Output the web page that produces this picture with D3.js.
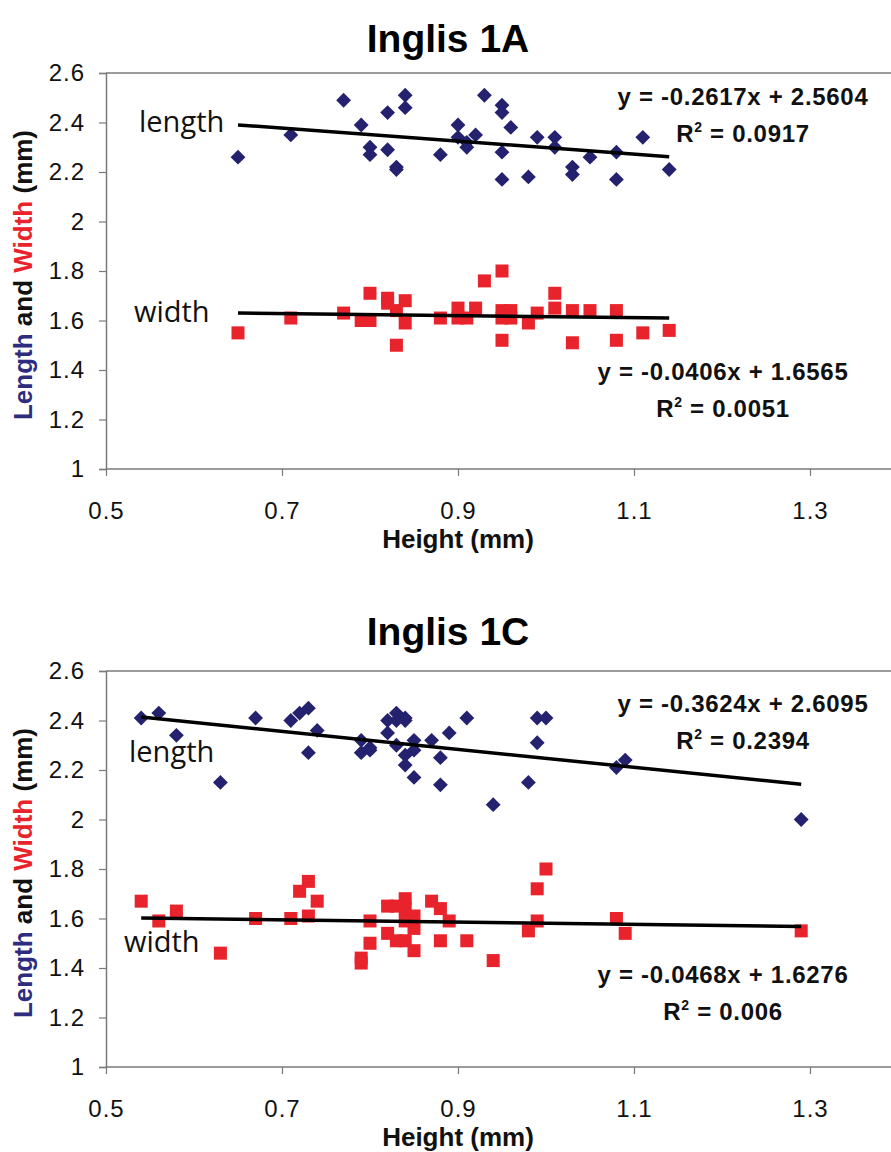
<!DOCTYPE html>
<html><head><meta charset="utf-8">
<script src="https://cdn.jsdelivr.net/npm/d3@7"></script>
<style>body{margin:0;background:#fff}svg{display:block}</style>
</head><body>
<svg id="c" width="891" height="1152"></svg>
<script>
// ---------- DATA ----------
const titles = ["Inglis 1A", "Inglis 1C"];
const xTicks = [0.5, 0.7, 0.9, 1.1, 1.3];
const yTicks = [1, 1.2, 1.4, 1.6, 1.8, 2, 2.2, 2.4, 2.6];

// Inglis 1A
const A_length = [[0.65,2.26],[0.71,2.35],[0.77,2.49],[0.79,2.39],[0.80,2.30],[0.80,2.27],[0.82,2.44],[0.82,2.29],[0.83,2.22],[0.83,2.21],[0.84,2.51],[0.84,2.46],[0.88,2.27],[0.90,2.39],[0.90,2.34],[0.91,2.32],[0.91,2.30],[0.92,2.35],[0.93,2.51],[0.95,2.47],[0.95,2.44],[0.96,2.38],[0.95,2.28],[0.95,2.17],[0.98,2.18],[0.99,2.34],[1.01,2.34],[1.01,2.30],[1.03,2.22],[1.03,2.19],[1.05,2.26],[1.08,2.28],[1.08,2.17],[1.11,2.34],[1.14,2.21]];
const A_width = [[0.65,1.55],[0.71,1.61],[0.77,1.63],[0.80,1.71],[0.79,1.60],[0.80,1.60],[0.82,1.69],[0.82,1.67],[0.83,1.64],[0.84,1.68],[0.84,1.59],[0.83,1.50],[0.88,1.61],[0.90,1.65],[0.90,1.61],[0.91,1.61],[0.92,1.65],[0.93,1.76],[0.95,1.80],[0.95,1.64],[0.95,1.61],[0.96,1.64],[0.96,1.61],[0.95,1.52],[0.98,1.59],[0.99,1.63],[1.01,1.71],[1.01,1.65],[1.03,1.64],[1.03,1.51],[1.05,1.64],[1.08,1.64],[1.08,1.52],[1.11,1.55],[1.14,1.56]];
const A_lengthFit = [-0.2617, 2.5604, 0.0917];
const A_widthFit = [-0.0406, 1.6565, 0.0051];

// Inglis 1C
const C_length = [[0.54,2.41],[0.56,2.43],[0.58,2.34],[0.63,2.15],[0.67,2.41],[0.71,2.40],[0.72,2.43],[0.73,2.45],[0.74,2.36],[0.73,2.27],[0.79,2.32],[0.79,2.27],[0.80,2.29],[0.80,2.28],[0.82,2.40],[0.83,2.43],[0.83,2.40],[0.84,2.41],[0.84,2.40],[0.82,2.35],[0.83,2.30],[0.84,2.26],[0.84,2.22],[0.85,2.32],[0.85,2.28],[0.85,2.17],[0.87,2.32],[0.88,2.25],[0.88,2.14],[0.89,2.35],[0.91,2.41],[0.94,2.06],[0.98,2.15],[0.99,2.41],[1.00,2.41],[0.99,2.31],[1.08,2.21],[1.09,2.24],[1.29,2.00]];
const C_width = [[0.54,1.67],[0.56,1.59],[0.58,1.63],[0.63,1.46],[0.67,1.60],[0.71,1.60],[0.72,1.71],[0.73,1.75],[0.74,1.67],[0.73,1.61],[0.80,1.59],[0.80,1.50],[0.79,1.44],[0.79,1.42],[0.82,1.65],[0.83,1.65],[0.84,1.68],[0.84,1.64],[0.85,1.61],[0.85,1.56],[0.82,1.54],[0.83,1.51],[0.84,1.51],[0.85,1.47],[0.84,1.59],[0.87,1.67],[0.88,1.64],[0.89,1.59],[0.88,1.51],[0.91,1.51],[0.94,1.43],[0.98,1.55],[0.99,1.59],[0.99,1.72],[1.00,1.80],[1.08,1.60],[1.09,1.54],[1.29,1.55]];
const C_lengthFit = [-0.3624, 2.6095, 0.2394];
const C_widthFit = [-0.0468, 1.6276, 0.006];

// ---------- DRAW ----------
const svg = d3.select("#c");
const NAVY = "#24226e", RED = "#e8232b", AXIS = "#7a7a7a";
const FONT = "'Liberation Sans', Arial, sans-serif";

function fmt(v){ return String(v); }

function panel(cfg){
  const g = svg.append("g");
  const x = d3.scaleLinear().domain([0.5, 1.4]).range([106, 898]);
  const y = d3.scaleLinear().domain([1, 2.6]).range([cfg.bottom, cfg.bottom - 396]);

  g.append("text").attr("x", 448).attr("y", cfg.titleY).attr("text-anchor","middle")
   .attr("font-family", FONT).attr("font-weight","bold").attr("font-size", 39).text(cfg.title);

  // frame
  g.append("line").attr("x1", x(0.5)).attr("x2", 891).attr("y1", y(2.6)).attr("y2", y(2.6))
   .attr("stroke", AXIS).attr("stroke-width", 1.5);

  const ya = g.append("g").attr("transform", `translate(${x(0.5)},0)`)
    .call(d3.axisLeft(y).tickValues(yTicks).tickSize(7).tickPadding(14).tickFormat(fmt));
  const xa = g.append("g").attr("transform", `translate(0,${y(1)})`)
    .call(d3.axisBottom(x).tickValues(xTicks).tickSize(7).tickPadding(26).tickFormat(fmt));
  [ya, xa].forEach(a => {
    a.select(".domain").attr("stroke", AXIS).attr("stroke-width", 1.5);
    a.selectAll(".tick line").attr("stroke", AXIS).attr("stroke-width", 1.2);
    a.selectAll(".tick text").attr("font-family", FONT).attr("font-size", 24)
      .attr("fill", "#111").style("letter-spacing", "1px");
  });
  xa.select(".domain").attr("d", `M${x(0.5)},0H891`);

  // axis titles
  g.append("text").attr("x", 458).attr("y", cfg.bottom + 79).attr("text-anchor","middle")
   .attr("font-family", FONT).attr("font-weight","bold").attr("font-size", 26).attr("fill","#111")
   .text("Height (mm)");
  const yl = g.append("text").attr("transform", `translate(32,${cfg.bottom - 194}) rotate(-90)`)
   .attr("text-anchor","middle").attr("font-family", FONT).attr("font-weight","bold").attr("font-size", 26).attr("fill","#111");
  yl.append("tspan").attr("fill", "#2e2c7e").text("Length");
  yl.append("tspan").text(" and ");
  yl.append("tspan").attr("fill", RED).text("Width");
  yl.append("tspan").text(" (mm)");

  // points
  g.append("g").selectAll("rect").data(cfg.width).join("rect")
   .attr("x", d => x(d[0]) - 6.5).attr("y", d => y(d[1]) - 6.5).attr("width", 13).attr("height", 13)
   .attr("fill", RED);
  g.append("g").selectAll("path").data(cfg.length).join("path")
   .attr("transform", d => `translate(${x(d[0])},${y(d[1])}) rotate(45)`)
   .attr("d", d3.symbol().type(d3.symbolSquare).size(110)())
   .attr("fill", NAVY);

  // trend lines
  [[cfg.length, cfg.lFit],[cfg.width, cfg.wFit]].forEach(([pts, f]) => {
    const xs = d3.extent(pts, d => d[0]);
    const line = d3.line().x(d => x(d)).y(d => y(f[0]*d + f[1]));
    g.append("path").attr("d", line(xs)).attr("stroke","#000").attr("stroke-width",3.5).attr("fill","none");
  });

  // labels
  const lab = (t, px, py) => g.append("text").attr("x", px).attr("y", py)
     .attr("font-family","'Open Sans', 'Noto Sans', sans-serif").attr("font-size", 29).attr("fill","#111").text(t);
  lab("length", cfg.lenLab[0], cfg.lenLab[1]);
  lab("width", cfg.widLab[0], cfg.widLab[1]);

  // equations
  const eq = (f, cx, by) => {
    const s = f[1] >= 0 ? "+" : "-";
    g.append("text").attr("x", cx).attr("y", by).attr("text-anchor","middle")
      .attr("font-family", FONT).attr("font-weight","bold").attr("font-size", 24).attr("fill","#111")
      .style("letter-spacing","0.7px")
      .text(`y = ${f[0]}x ${s} ${Math.abs(f[1])}`);
    const t = g.append("text").attr("x", cx).attr("y", by + 37).attr("text-anchor","middle")
      .attr("font-family", FONT).attr("font-weight","bold").attr("font-size", 24).attr("fill","#111")
      .style("letter-spacing","0.7px");
    t.append("tspan").text("R");
    t.append("tspan").attr("font-size", 14).attr("dy", -10).text("2");
    t.append("tspan").attr("dy", 10).text(` = ${f[2]}`);
  };
  eq(cfg.lFit, cfg.lEq[0], cfg.lEq[1]);
  eq(cfg.wFit, cfg.wEq[0], cfg.wEq[1]);
}

panel({title: titles[0], titleY: 52, bottom: 469, length: A_length, width: A_width,
  lFit: A_lengthFit, wFit: A_widthFit, lenLab: [139,132], widLab: [134,322], lEq: [743,105], wEq: [723,380]});
panel({title: titles[1], titleY: 645, bottom: 1067, length: C_length, width: C_width,
  lFit: C_lengthFit, wFit: C_widthFit, lenLab: [129,762], widLab: [124,952], lEq: [743,712], wEq: [723,983]});
</script>
</body></html>
